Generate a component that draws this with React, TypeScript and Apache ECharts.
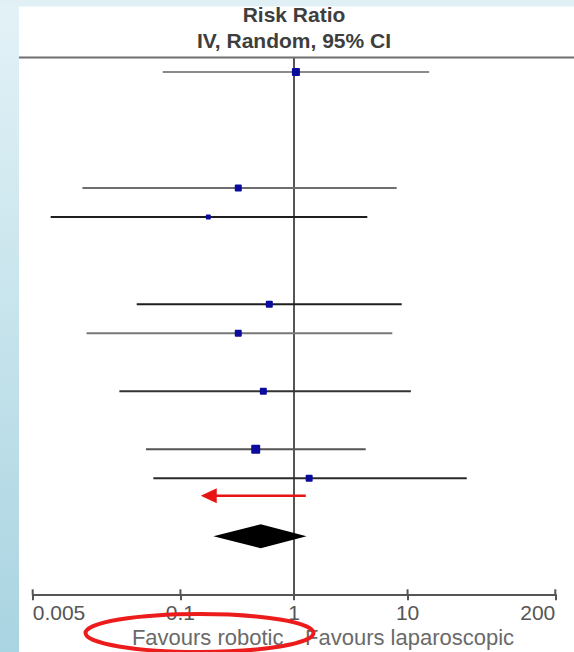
import React, { useEffect, useRef } from "react";
import * as echarts from "echarts";

// ---- data ----
const studyRows = [0, 4, 5, 8, 9, 11, 13, 14];
const estimates = [1.04, 0.323, 0.176, 0.606, 0.323, 0.537, 0.46, 1.36];
const lowerCI = [0.0698, 0.0137, 0.0072, 0.0412, 0.0149, 0.029, 0.0497, 0.0577];
const upperCI = [15.5, 8.02, 4.42, 8.88, 7.34, 10.7, 4.28, 33.2];

const pooledRow = [16];
const pooledEstimate = [0.509];
const pooledLower = [0.195];
const pooledUpper = [1.29];

const arrowRow = [14.6];
const arrowFrom = [1.27];
const arrowTo = [0.151];

const tickValues = [0.005, 0.1, 1, 10, 200];
const tickLabels = ["0.005", "0.1", "1", "10", "200"];
const axisMin = 0.005;
const axisMax = 200;
const nullValue = 1;

const headerTitle = "Risk Ratio";
const headerSubtitle = "IV, Random, 95% CI";
const favoursLeft = "Favours robotic";
const favoursRight = "Favours laparoscopic";

// ---- styles ----
const markerSizes = [8, 7, 5, 7, 7, 7, 9, 7];
const lineColors = ["#8a8a8a", "#6e6e6e", "#1e1e1e", "#1e1e1e", "#777777", "#333333", "#555555", "#2a2a2a"];
const FONT = "'Liberation Sans', Arial, sans-serif";

export default function App() {
  const ref = useRef<HTMLDivElement>(null);

  useEffect(() => {
    if (!ref.current) return;
    const chart = echarts.init(ref.current, undefined, { renderer: "svg" });

    const studyData = studyRows.map((r, i) => [lowerCI[i], upperCI[i], estimates[i], r]);
    const pooledData = pooledRow.map((r, i) => [pooledLower[i], pooledUpper[i], pooledEstimate[i], r]);
    const arrowData = arrowRow.map((r, i) => [arrowFrom[i], arrowTo[i], r]);

    const option: any = {
      animation: false,
      backgroundColor: "#ffffff",
      grid: {
        left: 32.7,
        right: 18.7,
        top: 57.5,
        bottom: 57.7,
        containLabel: false,
        outerBoundsMode: "none",
      },
      xAxis: {
        type: "log",
        logBase: 10,
        min: axisMin,
        max: axisMax,
        position: "bottom",
        splitLine: { show: false },
        axisLine: { show: true, onZero: false, lineStyle: { color: "#555555", width: 2 } },
        axisTick: {
          show: true,
          inside: false,
          length: 6,
          customValues: tickValues,
          lineStyle: { color: "#555555", width: 2 },
        },
        axisLabel: {
          show: true,
          customValues: tickValues,
          formatter: (v: number) => {
            const idx = tickValues.findIndex((t) => Math.abs(t - v) / t < 1e-6);
            return idx >= 0 ? tickLabels[idx] : "";
          },
          margin: 8,
          color: "#555555",
          fontSize: 21,
          fontFamily: FONT,
          alignMinLabel: "left",
          alignMaxLabel: "right",
        },
        minorTick: { show: false },
      },
      yAxis: {
        type: "value",
        inverse: true,
        min: -0.5,
        max: 18,
        show: false,
        splitLine: { show: false },
      },
      series: [
        {
          type: "custom",
          name: "null line",
          data: [[nullValue, -0.5, 18]],
          encode: { x: 0, y: [1, 2] },
          z: 1,
          renderItem: (params: any, api: any) => {
            const a = api.coord([api.value(0), api.value(1)]);
            const b = api.coord([api.value(0), api.value(2)]);
            return {
              type: "line",
              shape: { x1: a[0], y1: a[1], x2: b[0], y2: b[1] },
              style: { stroke: "#555555", lineWidth: 2 },
            };
          },
        },
        {
          type: "custom",
          name: "upper ticks",
          data: tickValues.map((v) => [v, 18]),
          encode: { x: 0, y: 1 },
          z: 2,
          renderItem: (params: any, api: any) => {
            const p = api.coord([api.value(0), api.value(1)]);
            return {
              type: "line",
              shape: { x1: p[0], y1: p[1], x2: p[0], y2: p[1] - 5 },
              style: { stroke: "#555555", lineWidth: 2 },
            };
          },
        },
        {
          type: "custom",
          name: "studies",
          data: studyData,
          encode: { x: [0, 1, 2], y: 3 },
          z: 3,
          renderItem: (params: any, api: any) => {
            const i = params.dataIndex;
            const y = api.value(3);
            const lo = api.coord([api.value(0), y]);
            const hi = api.coord([api.value(1), y]);
            const pt = api.coord([api.value(2), y]);
            const s = markerSizes[i];
            return {
              type: "group",
              children: [
                {
                  type: "line",
                  shape: { x1: lo[0], y1: lo[1], x2: hi[0], y2: hi[1] },
                  style: { stroke: lineColors[i], lineWidth: 2 },
                },
                {
                  type: "rect",
                  shape: { x: pt[0] - s / 2, y: pt[1] - s / 2, width: s, height: s, r: 1 },
                  style: { fill: "#0b0b9e" },
                },
              ],
            };
          },
        },
        {
          type: "custom",
          name: "pooled",
          data: pooledData,
          encode: { x: [0, 1, 2], y: 3 },
          z: 3,
          renderItem: (params: any, api: any) => {
            const y = api.value(3);
            const lo = api.coord([api.value(0), y]);
            const hi = api.coord([api.value(1), y]);
            const pt = api.coord([api.value(2), y]);
            const h = 12;
            return {
              type: "polygon",
              shape: {
                points: [
                  [lo[0], lo[1]],
                  [pt[0], pt[1] - h],
                  [hi[0], hi[1]],
                  [pt[0], pt[1] + h],
                ],
              },
              style: { fill: "#000000" },
            };
          },
        },
        {
          type: "custom",
          name: "arrow",
          data: arrowData,
          encode: { x: [0, 1], y: 2 },
          z: 4,
          renderItem: (params: any, api: any) => {
            const y = api.value(2);
            const a = api.coord([api.value(0), y]);
            const b = api.coord([api.value(1), y]);
            const headLen = 16;
            const headHalf = 7.5;
            return {
              type: "group",
              children: [
                {
                  type: "line",
                  shape: { x1: a[0], y1: a[1], x2: b[0] + headLen - 2, y2: b[1] },
                  style: { stroke: "#e81414", lineWidth: 2.5 },
                },
                {
                  type: "polygon",
                  shape: {
                    points: [
                      [b[0], b[1]],
                      [b[0] + headLen, b[1] - headHalf],
                      [b[0] + headLen, b[1] + headHalf],
                    ],
                  },
                  style: { fill: "#e81414" },
                },
              ],
            };
          },
        },
      ],
      graphic: [
        {
          type: "rect",
          z: 100,
          shape: { x: 0, y: 0, width: 19, height: 652 },
          style: {
            fill: new echarts.graphic.LinearGradient(0, 0, 0, 1, [
              { offset: 0, color: "#e3f2f7" },
              { offset: 1, color: "#a9d4e1" },
            ]),
          },
        },
        {
          type: "rect",
          z: 100,
          shape: { x: 0, y: 0, width: 574, height: 6.5 },
          style: { fill: "#e0f0f5" },
        },
        {
          type: "line",
          z: 50,
          shape: { x1: 19, y1: 57.5, x2: 574, y2: 57.5 },
          style: { stroke: "#6e6e6e", lineWidth: 2 },
        },
        {
          type: "text",
          z: 50,
          x: 294,
          y: 14,
          style: {
            text: headerTitle,
            fill: "#3e3e3e",
            font: `bold 21px ${FONT}`,
            align: "center",
            verticalAlign: "middle",
          },
        },
        {
          type: "text",
          z: 50,
          x: 294,
          y: 40.5,
          style: {
            text: headerSubtitle,
            fill: "#3e3e3e",
            font: `bold 21px ${FONT}`,
            align: "center",
            verticalAlign: "middle",
          },
        },
        {
          type: "text",
          z: 50,
          x: 283.5,
          y: 637.5,
          style: {
            text: favoursLeft,
            fill: "#6a6a6a",
            font: `22px ${FONT}`,
            align: "right",
            verticalAlign: "middle",
          },
        },
        {
          type: "text",
          z: 50,
          x: 305,
          y: 637.5,
          style: {
            text: favoursRight,
            fill: "#6a6a6a",
            font: `22px ${FONT}`,
            align: "left",
            verticalAlign: "middle",
          },
        },
        {
          type: "ellipse",
          z: 60,
          shape: { cx: 199.5, cy: 633, rx: 114, ry: 19 },
          style: { fill: "none", stroke: "#ec1c1c", lineWidth: 4 },
        },
      ],
    };

    chart.setOption(option);
    return () => chart.dispose();
  }, []);

  return (
    <div
      ref={ref}
      style={{ position: "absolute", left: 0, top: 0, width: 574, height: 652 }}
    />
  );
}
